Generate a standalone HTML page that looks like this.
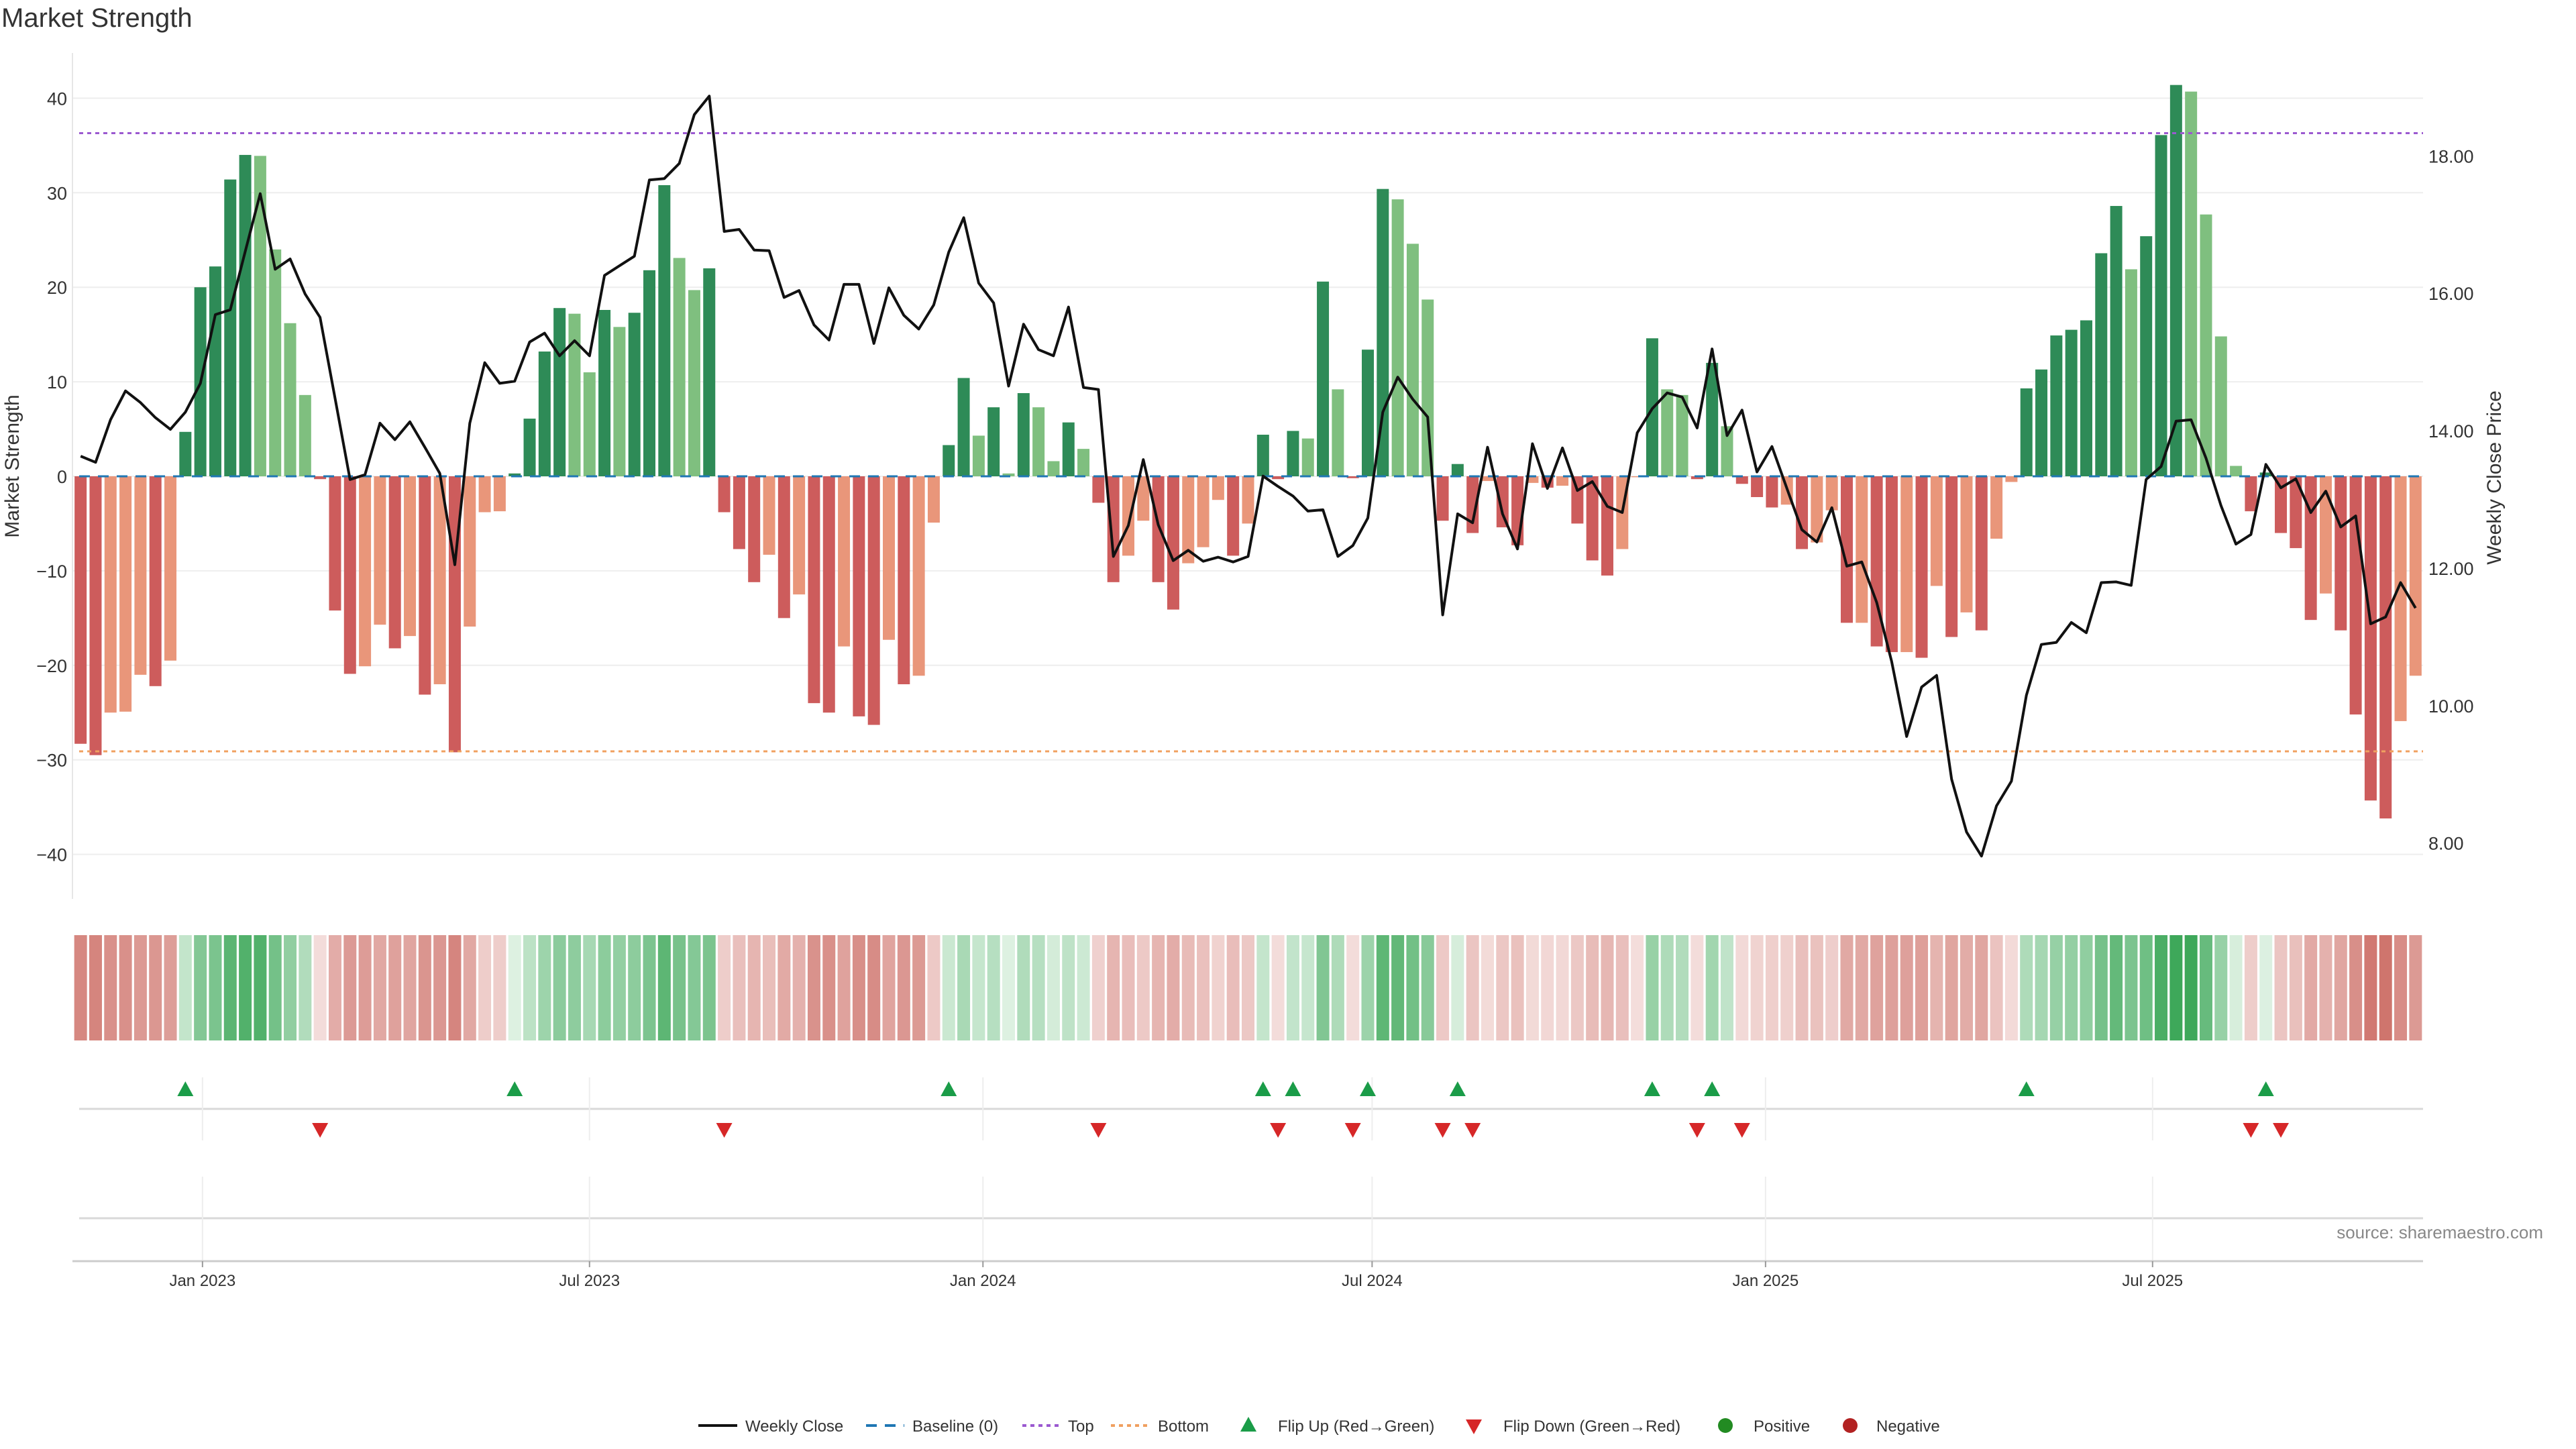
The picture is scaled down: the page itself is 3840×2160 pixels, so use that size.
<!DOCTYPE html>
<html><head><meta charset="utf-8"><style>
html,body{margin:0;padding:0;background:#fff;}
svg{display:block;font-family:"Liberation Sans","DejaVu Sans",sans-serif;}
</style></head><body>
<svg id="chart" width="3840" height="2160" viewBox="0 0 3840 2160" xmlns="http://www.w3.org/2000/svg">
<rect width="3840" height="2160" fill="#fff"/>
<text x="2" y="40" font-size="40" fill="#333">Market Strength</text>
<g id="grid"></g>
<g id="heat"></g>
<g id="bars"></g>
<g id="lines"></g>
<g id="price"></g>
<g id="signals"></g>
<g id="axes"></g>
<text x="45" y="712" font-size="30" fill="#333" text-anchor="middle" transform="rotate(-90 28 712)">Market Strength</text>
<text x="3728" y="712" font-size="30" fill="#333" text-anchor="middle" transform="rotate(-90 3728 712)">Weekly Close Price</text>
<text x="3791" y="1846" font-size="26" fill="#888" text-anchor="end">source: sharemaestro.com</text>
<g id="legend"></g>
</svg>
<script>
const strength = [-28.3,-29.5,-25,-24.9,-21,-22.2,-19.5,4.7,20,22.2,31.4,34,33.9,24,16.2,8.6,-0.3,-14.2,-20.9,-20.1,-15.7,-18.2,-16.9,-23.1,-22,-29.2,-15.9,-3.8,-3.7,0.3,6.1,13.2,17.8,17.2,11,17.6,15.8,17.3,21.8,30.8,23.1,19.7,22,-3.8,-7.7,-11.2,-8.3,-15,-12.5,-24,-25,-18,-25.4,-26.3,-17.3,-22,-21.1,-4.9,3.3,10.4,4.3,7.3,0.3,8.8,7.3,1.6,5.7,2.9,-2.8,-11.2,-8.4,-4.7,-11.2,-14.1,-9.2,-7.5,-2.5,-8.4,-5,4.4,-0.3,4.8,4.0,20.6,9.2,-0.2,13.4,30.4,29.3,24.6,18.7,-4.7,1.3,-6.0,-0.5,-5.4,-7.3,-0.7,-1.2,-1.0,-5.0,-8.9,-10.5,-7.7,-0.1,14.6,9.2,8.6,-0.3,12.0,5.3,-0.8,-2.2,-3.3,-3.0,-7.7,-7.0,-3.6,-15.5,-15.5,-18.0,-18.6,-18.6,-19.2,-11.6,-17.0,-14.4,-16.3,-6.6,-0.6,9.3,11.3,14.9,15.5,16.5,23.6,28.6,21.9,25.4,36.1,41.4,40.7,27.7,14.8,1.1,-3.7,0.4,-6.0,-7.6,-15.2,-12.4,-16.3,-25.2,-34.3,-36.2,-25.9,-21.1];
const closePrice = [13.63,13.54,14.16,14.58,14.41,14.19,14.02,14.27,14.69,15.69,15.76,16.61,17.45,16.35,16.50,15.99,15.65,14.47,13.29,13.36,14.11,13.87,14.13,13.76,13.38,12.05,14.11,14.99,14.69,14.72,15.29,15.42,15.09,15.31,15.09,16.26,16.40,16.54,17.65,17.67,17.89,18.60,18.87,16.90,16.93,16.63,16.62,15.94,16.04,15.54,15.32,16.13,16.13,15.27,16.08,15.68,15.48,15.83,16.60,17.10,16.15,15.86,14.65,15.55,15.18,15.09,15.80,14.63,14.60,12.17,12.62,13.58,12.63,12.11,12.26,12.10,12.16,12.09,12.17,13.34,13.19,13.05,12.83,12.85,12.17,12.33,12.73,14.27,14.78,14.46,14.20,11.32,12.79,12.66,13.76,12.79,12.28,13.81,13.16,13.75,13.13,13.26,12.90,12.81,13.97,14.32,14.55,14.49,14.04,15.19,13.93,14.30,13.40,13.77,13.16,12.56,12.38,12.88,12.03,12.09,11.50,10.64,9.55,10.27,10.44,8.93,8.16,7.81,8.54,8.90,10.15,10.89,10.92,11.21,11.06,11.79,11.80,11.75,13.29,13.48,14.14,14.16,13.60,12.91,12.35,12.49,13.51,13.17,13.30,12.81,13.12,12.60,12.76,11.19,11.29,11.79,11.42];
const topLevel = 36.3;
const bottomLevel = -29.1;
const strengthTicks = [40,30,20,10,0,-10,-20,-30,-40];
const priceTicks = [8,10,12,14,16,18];
const dateTicks = ["2023-01-01","2023-07-01","2024-01-01","2024-07-01","2025-01-01","2025-07-01"];
const dateTickLabels = ["Jan 2023","Jul 2023","Jan 2024","Jul 2024","Jan 2025","Jul 2025"];
const firstWeek = "2022-11-05";

const NS="http://www.w3.org/2000/svg";
function mk(parent,tag,attrs){const e=document.createElementNS(NS,tag);for(const k in attrs)e.setAttribute(k,attrs[k]);parent.appendChild(e);return e;}
const L=108,R=3612,N=strength.length,slot=(R-109)/N;
const xi=i=>109+slot*(i+0.5);
const ys=v=>710-v*14.09;
const yp=p=>ys(-38.8+(p-8)*7.27);
const d0=new Date(firstWeek+"T00:00:00Z").getTime();
const xd=s=>xi(0)+(new Date(s+"T00:00:00Z").getTime()-d0)/86400000/7*slot;

const grid=document.getElementById('grid'),axes=document.getElementById('axes');
strengthTicks.forEach(t=>{
  const g=mk(grid,'line',{x1:L,x2:R,y1:ys(t),y2:ys(t),stroke:'#eeeeee','stroke-width':2});
  
  const tx=mk(axes,'text',{x:100,y:ys(t)+10,'font-size':27,fill:'#333','text-anchor':'end'});
  tx.textContent=(t<0?'\u2212':'')+Math.abs(t);
  
});
priceTicks.forEach(t=>{
  const tx=mk(axes,'text',{x:3620,y:yp(t)+10,'font-size':27,fill:'#333'});
  tx.textContent=t.toFixed(2);
  
});
const la=mk(axes,'line',{x1:L,x2:L,y1:79,y2:1340,stroke:'#e6e6e6','stroke-width':2});

[[1653,1606,1700],[1816,1754,1880]].forEach(([y,a,b])=>{
  const h=mk(grid,'line',{x1:118,x2:R,y1:y,y2:y,stroke:'#d9d9d9','stroke-width':3});
  
  dateTicks.forEach(d=>{const v=mk(grid,'line',{x1:xd(d),x2:xd(d),y1:a,y2:b,stroke:'#eeeeee','stroke-width':2});
    });
});
const xa=mk(axes,'line',{x1:L,x2:R,y1:1880,y2:1880,stroke:'#cccccc','stroke-width':3});

dateTicks.forEach((d,k)=>{
  const tk=mk(axes,'line',{x1:xd(d),x2:xd(d),y1:1880,y2:1889,stroke:'#999','stroke-width':2});
  
  const tx=mk(axes,'text',{x:xd(d),y:1917,'font-size':24,fill:'#333','text-anchor':'middle'});
  tx.textContent=dateTickLabels[k];
  
});
const bars=document.getElementById('bars'),heat=document.getElementById('heat');
function mix(a,b,t){const pa=a.match(/\w\w/g).map(h=>parseInt(h,16)),pb=b.match(/\w\w/g).map(h=>parseInt(h,16));return 'rgb('+pa.map((c,i)=>Math.round(c+(pb[i]-c)*t)).join(',')+')';}
strength.forEach((v,i)=>{
  const prev=i>0?strength[i-1]:v;
  let col;
  if(v>=0) col=(i>0&&v>=prev)?'#2e8b57':'#7fbf7f';
  else col=(i===0||v<prev)?'#cd5c5c':'#e9967a';
  const y0=ys(Math.max(v,0)),h=Math.max(Math.abs(v)*14.09,1);
  const b=mk(bars,'rect',{x:xi(i)-9,y:y0,width:18,height:h,fill:col});
  
  const t=Math.pow(Math.min(Math.abs(v)/40,1),0.8);
  const hc=v>=0?mix('e0f2e4','3ea85a',t):mix('f4dedc','cc6c64',t);
  const c=mk(heat,'rect',{x:xi(i)-9.5,y:1394,width:19,height:157,fill:hc});
  
});
const lines=document.getElementById('lines');
const bl=mk(lines,'line',{x1:118,x2:R,y1:ys(0),y2:ys(0),stroke:'#1f77b4','stroke-width':3,'stroke-dasharray':'16 12'});

const tl=mk(lines,'line',{x1:118,x2:R,y1:ys(topLevel),y2:ys(topLevel),stroke:'#9b59d0','stroke-width':3,'stroke-dasharray':'6 6'});

const bo=mk(lines,'line',{x1:118,x2:R,y1:ys(bottomLevel),y2:ys(bottomLevel),stroke:'#f0a060','stroke-width':3,'stroke-dasharray':'6 6'});

const pl=mk(document.getElementById('price'),'polyline',{points:closePrice.map((p,i)=>xi(i).toFixed(1)+','+yp(p).toFixed(1)).join(' '),fill:'none',stroke:'#111','stroke-width':4,'stroke-linejoin':'round'});

const sg=document.getElementById('signals');
for(let i=1;i<N;i++){
  const a=strength[i-1],b=strength[i],x=xi(i);
  if(a<=0&&b>0){const t=mk(sg,'polygon',{points:`${x-12},1634 ${x+12},1634 ${x},1612`,fill:'#1a9c48'});
    }
  else if(a>0&&b<=0){const t=mk(sg,'polygon',{points:`${x-12},1674 ${x+12},1674 ${x},1696`,fill:'#d62728'});
    }
}
const lg=document.getElementById('legend');const ly=2125;
function ltext(x,s){const t=mk(lg,'text',{x:x,y:ly+9,'font-size':24,fill:'#333'});t.textContent=s;}
let e;
e=mk(lg,'line',{x1:1041,x2:1099,y1:ly,y2:ly,stroke:'#111','stroke-width':4});ltext(1111,'Weekly Close');
e=mk(lg,'line',{x1:1291,x2:1348,y1:ly,y2:ly,stroke:'#1f77b4','stroke-width':4,'stroke-dasharray':'16 12'});ltext(1360,'Baseline (0)');
e=mk(lg,'line',{x1:1524,x2:1582,y1:ly,y2:ly,stroke:'#9b59d0','stroke-width':4,'stroke-dasharray':'6 6'});ltext(1592,'Top');
e=mk(lg,'line',{x1:1656,x2:1714,y1:ly,y2:ly,stroke:'#f0a060','stroke-width':4,'stroke-dasharray':'6 6'});ltext(1726,'Bottom');
e=mk(lg,'polygon',{points:`1849,${ly+9} 1873,${ly+9} 1861,${ly-13}`,fill:'#1a9c48'});ltext(1905,'Flip Up (Red\u2192Green)');
e=mk(lg,'polygon',{points:`2185,${ly-9} 2209,${ly-9} 2197,${ly+13}`,fill:'#d62728'});ltext(2241,'Flip Down (Green\u2192Red)');
e=mk(lg,'circle',{cx:2572,cy:ly,r:11,fill:'#228b22'});ltext(2614,'Positive');
e=mk(lg,'circle',{cx:2758,cy:ly,r:11,fill:'#b22222'});ltext(2797,'Negative');
</script>
</body></html>
